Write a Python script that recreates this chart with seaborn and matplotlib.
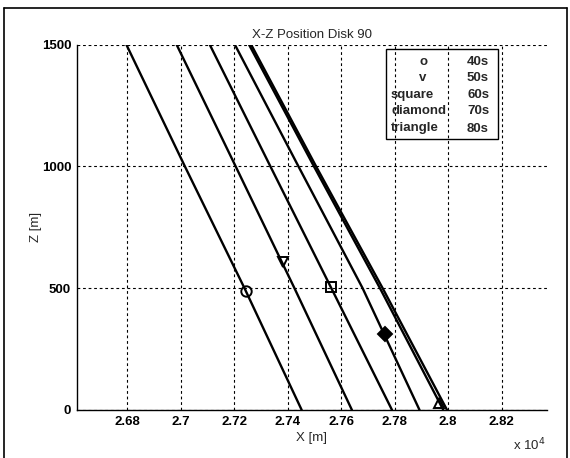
import matplotlib
matplotlib.use("Agg")
import matplotlib.pyplot as plt
import seaborn as sns
import pandas as pd
from matplotlib.lines import Line2D

# ---- data ----
z_levels = [1500, 1000, 500, 0]
x_circle = [26796, 27015, 27238, 27452]
x_v = [26984, 27205, 27425, 27640]
x_square = [27108, 27335, 27563, 27790]
x_diamond = [27202, 27440, 27680, 27893]
x_tri_a = [27255, 27498, 27745, 27982]
x_tri_b = [27263, 27506, 27755, 27996]

marker_names = ["o", "v", "square", "diamond", "triangle"]
marker_times = ["40s", "50s", "60s", "70s", "80s"]
marker_x = [27245, 27382, 27563, 27765, 27967]
marker_z = [488, 609, 506, 311, 27]
marker_syms = ["o", "v", "s", "D", "^"]
marker_fill = ["none", "none", "none", "black", "none"]

x_ticks = [26800, 27000, 27200, 27400, 27600, 27800, 28000, 28200]
x_ticklabels = ["2.68", "2.7", "2.72", "2.74", "2.76", "2.78", "2.8", "2.82"]
y_ticks = [0, 500, 1000, 1500]

sns.set_style("white")
plt.rcParams["font.family"] = ["Liberation Sans", "DejaVu Sans"]

W, H = 570, 458
fig = plt.figure(figsize=(W / 100, H / 100), dpi=100)
l, r, t, b = 76.7, 547, 44.7, 410
ax = fig.add_axes([l / W, 1 - b / H, (r - l) / W, (b - t) / H])

lines = {"circle": x_circle, "v": x_v, "square": x_square,
         "diamond": x_diamond, "tri_a": x_tri_a, "tri_b": x_tri_b}
rows = []
for name, xs in lines.items():
    for x, z in zip(xs, z_levels):
        rows.append({"line": name, "X": x, "Z": z})
df = pd.DataFrame(rows)
sns.lineplot(data=df, x="X", y="Z", units="line", estimator=None, sort=False,
             color="black", lw=1.7, ax=ax, legend=False)

for mx, mz, ms, mf in zip(marker_x, marker_z, marker_syms, marker_fill):
    ax.plot([mx], [mz], marker=ms, ms=7.5, mfc=mf, mec="black", mew=1.4,
            linestyle="none", zorder=5)

ax.set_xlim(26610, 28370)
ax.set_ylim(0, 1500)
ax.set_xticks(x_ticks)
ax.set_xticklabels(x_ticklabels)
ax.set_yticks(y_ticks)
ax.tick_params(direction="in", length=3, labelsize=9.5, colors="black", pad=4)
for lab in ax.get_xticklabels() + ax.get_yticklabels():
    lab.set_fontweight("bold")
ax.grid(True, color="black", linestyle=(0, (2.5, 2.5)), lw=0.8)
for s in ["top", "right"]:
    ax.spines[s].set_visible(False)
for s in ["left", "bottom"]:
    ax.spines[s].set_color("black")
    ax.spines[s].set_linewidth(1.0)

ax.set_xlabel("X [m]", fontsize=9.5, labelpad=3)
ax.set_ylabel("Z [m]", fontsize=9.5, labelpad=0)
ax.set_title("X-Z Position Disk 90", fontsize=9.5, pad=5)
fig.text(513 / W, 1 - 450 / H, r"x 10$^4$", fontsize=9.5, ha="left", va="baseline")

# legend table box
ax.add_patch(plt.Rectangle((386 / W, 1 - 139 / H), (498 - 386) / W, (139 - 48.5) / H,
                           transform=fig.transFigure, fill=False, ec="black", lw=1.0,
                           zorder=6))
row_y = [61.7, 78.3, 95, 111.5, 128.5]
for i, (nm, tm) in enumerate(zip(marker_names, marker_times)):
    if len(nm) == 1:
        fig.text(423 / W, 1 - row_y[i] / H, nm, fontsize=9.5, fontweight="bold",
                 ha="center", va="center")
    else:
        fig.text(391 / W, 1 - row_y[i] / H, nm, fontsize=9.5, fontweight="bold",
                 ha="left", va="center")
    fig.text(478 / W, 1 - row_y[i] / H, tm, fontsize=9.5, fontweight="bold",
             ha="center", va="center")

# scan frame around the figure
fig.add_artist(Line2D([4 / W, 4 / W], [0, 1 - 8 / H], color="black", lw=1.2))
fig.add_artist(Line2D([4 / W, 567 / W], [1 - 8 / H, 1 - 8 / H], color="black", lw=1.2))
fig.add_artist(Line2D([567 / W, 567 / W], [0, 1 - 8 / H], color="black", lw=1.2))

fig.savefig("out.png", dpi=100)
